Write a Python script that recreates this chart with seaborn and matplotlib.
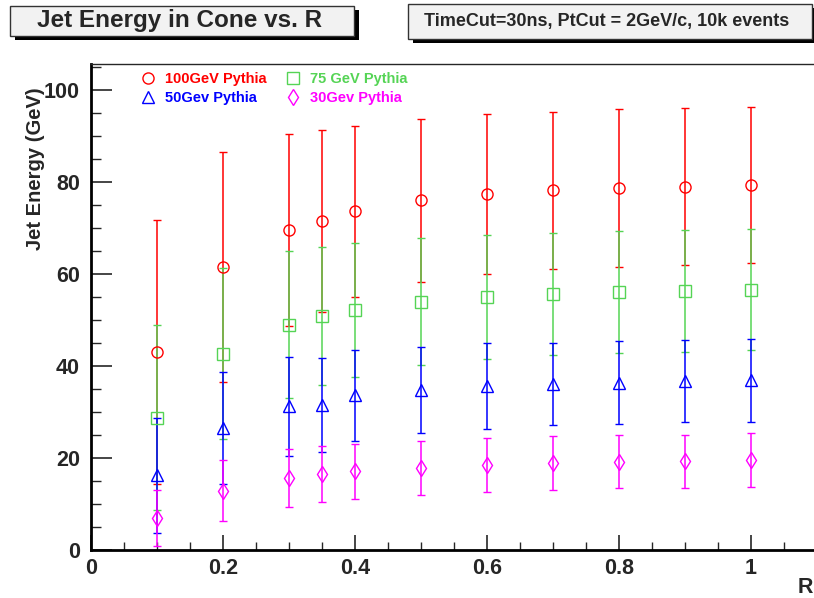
import matplotlib
matplotlib.use("Agg")
import matplotlib.pyplot as plt
import matplotlib.patches as mpatches
from matplotlib.lines import Line2D
from matplotlib.ticker import MultipleLocator
import seaborn as sns

# cone radius values
r_values = [0.1, 0.2, 0.3, 0.35, 0.4, 0.5, 0.6, 0.7, 0.8, 0.9, 1.0]

# jet energy in cone (GeV) and its spread, per sample
e_100 = [43.0, 61.5, 69.6, 71.6, 73.6, 76.0, 77.3, 78.2, 78.7, 79.0, 79.3]
err_100 = [28.7, 25.0, 20.8, 19.8, 18.6, 17.8, 17.4, 17.1, 17.1, 17.0, 17.0]
e_75 = [28.8, 42.7, 49.0, 50.9, 52.2, 54.0, 55.0, 55.7, 56.1, 56.3, 56.6]
err_75 = [20.2, 18.5, 15.9, 15.0, 14.5, 13.8, 13.5, 13.3, 13.3, 13.2, 13.2]
e_50 = [16.3, 26.5, 31.2, 31.5, 33.6, 34.8, 35.6, 36.1, 36.4, 36.7, 36.9]
err_50 = [12.5, 12.1, 10.7, 10.2, 9.8, 9.4, 9.3, 9.0, 9.0, 8.9, 9.0]
e_30 = [7.0, 12.9, 15.7, 16.5, 17.1, 17.9, 18.5, 18.9, 19.2, 19.3, 19.5]
err_30 = [6.1, 6.7, 6.3, 6.1, 6.0, 5.9, 5.8, 5.8, 5.75, 5.8, 5.85]

labels = ["100GeV Pythia", "75 GeV Pythia", "50Gev Pythia", "30Gev Pythia"]
colors = ["#ff0000", "#55d455", "#0000ff", "#ff00ff"]
markers = ["o", "s", "^", "d"]

title_text = "Jet Energy in Cone vs. R"
info_text = "TimeCut=30ns, PtCut = 2GeV/c, 10k events"

sns.set_style("white")
plt.rcParams["font.family"] = ["Liberation Sans", "DejaVu Sans"]
plt.rcParams["font.weight"] = "bold"

W, H = 814, 598
fig = plt.figure(figsize=(W / 100, H / 100), dpi=100)
ax = fig.add_axes([91 / W, (H - 550) / H, (W - 91) / W, (550 - 64) / H])

series = [(e_100, err_100), (e_75, err_75), (e_50, err_50), (e_30, err_30)]
handles = []
for (vals, errs), lab, col, mk in zip(series, labels, colors, markers):
    ax.errorbar(r_values, vals, yerr=errs, fmt=mk, color=col, ecolor=col,
                mfc="none", mec=col, ms=8, mew=1.0, elinewidth=1.1,
                capsize=3, capthick=1.1)
    # legend shows the marker only
    handles.append(Line2D([], [], linestyle="none", marker=mk, ms=8, mew=1.0,
                          mfc="none", mec=col))

ax.set_xlim(0, (W - 91) / 660)
ax.set_ylim(0, (550 - 64) / 4.6)

ax.xaxis.set_minor_locator(MultipleLocator(0.05))
ax.yaxis.set_major_locator(MultipleLocator(20))
ax.yaxis.set_minor_locator(MultipleLocator(5))
ax.set_xticks([0, 0.2, 0.4, 0.6, 0.8, 1.0])
ax.set_xticklabels(["0", "0.2", "0.4", "0.6", "0.8", "1"])
ax.tick_params(axis="x", which="major", direction="in", length=11, width=1.2,
               labelsize=15.5, pad=6, bottom=True)
ax.tick_params(axis="x", which="minor", direction="in", length=6, width=1.0, bottom=True)
ax.tick_params(axis="y", which="major", direction="in", length=15, width=1.2,
               labelsize=15.5, pad=8, left=True)
ax.tick_params(axis="y", which="minor", direction="in", length=7, width=1.0, left=True)
for lab in ax.get_xticklabels() + ax.get_yticklabels():
    lab.set_fontweight("bold")

for side in ["left", "bottom"]:
    ax.spines[side].set_linewidth(2.0)
    ax.spines[side].set_color("black")
ax.spines["top"].set_linewidth(1.0)
ax.spines["right"].set_visible(False)

ax.set_ylabel("Jet Energy (GeV)", fontsize=14.5, fontweight="bold", loc="top")
ax.yaxis.set_label_coords(-0.063, 0.951)
fig.text(813 / W, 1 - 593 / H, "R", fontsize=15.5, fontweight="bold",
         ha="right", va="baseline")

order = [0, 2, 1, 3]
leg = ax.legend([handles[i] for i in order], [labels[i] for i in order],
                ncol=2, loc="upper left", bbox_to_anchor=(0.06, 0.995),
                frameon=False, fontsize=10.5, handlelength=1.0,
                handletextpad=0.7, columnspacing=1.3, labelspacing=0.3,
                borderaxespad=0.0)
for txt, i in zip(leg.get_texts(), order):
    txt.set_color(colors[i])
    txt.set_fontweight("bold")


def box(x0, y0, x1, y1, text, size, tx):
    # drop shadow then the light grey box, pixel coords from the top left
    fig.patches.append(mpatches.Rectangle(
        ((x0 + 5) / W, 1 - (y1 + 4) / H), (x1 - x0) / W, (y1 - y0) / H,
        transform=fig.transFigure, facecolor="black", edgecolor="none", zorder=1))
    fig.patches.append(mpatches.Rectangle(
        (x0 / W, 1 - y1 / H), (x1 - x0) / W, (y1 - y0) / H,
        transform=fig.transFigure, facecolor="#f2f2f2", edgecolor="#333333",
        linewidth=1.0, zorder=2))
    fig.text(tx / W, 1 - (y0 + y1) / 2 / H, text, fontsize=size,
             fontweight="bold", ha="left", va="center", zorder=3)


box(10, 6, 354, 36, title_text, 17.5, 37)
box(408, 4, 812, 39, info_text, 13, 424)

fig.savefig("out.png", dpi=100)
